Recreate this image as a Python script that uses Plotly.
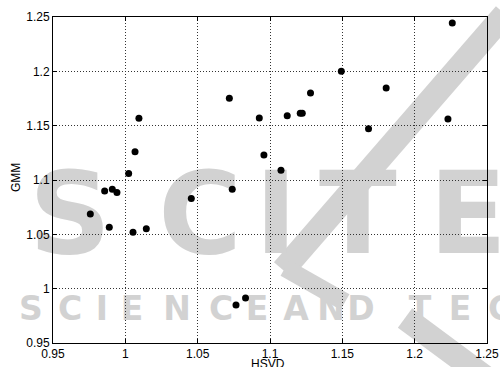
import plotly.graph_objects as go

# ---- data ----
hsvd = [1.0094, 1.0067, 1.0023, 1.0719, 1.2260, 1.1493, 1.1803, 1.1280, 1.1119,
        1.1209, 1.1223, 1.0926, 1.2230, 1.1681, 1.0958, 1.1076, 1.0739, 0.9857,
        0.9910, 0.9942, 1.0456, 0.9758, 0.9889, 1.0053, 1.0145, 1.0765, 1.0831]
gmm = [1.1568, 1.1260, 1.1060, 1.1752, 1.2445, 1.2000, 1.1847, 1.1800, 1.1592,
       1.1614, 1.1614, 1.1570, 1.1561, 1.1472, 1.1230, 1.1090, 1.0915, 1.0899,
       1.0915, 1.0884, 1.0829, 1.0687, 1.0565, 1.0519, 1.0552, 0.9850, 0.9915]

tick_vals = [0.95, 1.0, 1.05, 1.1, 1.15, 1.2, 1.25]
tick_text = ["0.95", "1", "1.05", "1.1", "1.15", "1.2", "1.25"]

# ---- layout geometry (page pixels in the 500x367 window) ----
W, H = 500, 367
L, R, T, B = 53, 487, 17, 343   # plot area in page pixels

def px(x):
    return (x - L) / (R - L)

def py(y):
    return (B - y) / (B - T)

WM = "#d2d2d2"
shapes = []

def letter(ch, cx, cy, size):
    shapes.append(dict(type="rect", xref="paper", yref="paper",
                       x0=px(cx - 30), x1=px(cx + 30), y0=py(cy + 30), y1=py(cy - 30),
                       line=dict(width=0), fillcolor="rgba(0,0,0,0)", layer="below",
                       label=dict(text=ch, textposition="middle center",
                                  font=dict(family="DejaVu Sans", size=size, color=WM,
                                            weight="bold"))))

def stroke(x0, y0, x1, y1, w):
    shapes.append(dict(type="line", xref="paper", yref="paper",
                       x0=px(x0), y0=py(y0), x1=px(x1), y1=py(y1),
                       line=dict(color=WM, width=w), layer="below"))

# watermark (SCITEPRESS logo)
stroke(505, 14, 283, 270, 24)
stroke(285, 268, 345, 302, 18)
stroke(405, 318, 505, 392, 24)
for ch, cx in [("S", 70), ("C", 200), ("I", 276), ("T", 358), ("E", 468)]:
    letter(ch, cx, 205, 114)
for ch, cx in [("S", 31), ("C", 70), ("I", 102), ("E", 132), ("N", 177),
               ("C", 221), ("E", 257), ("A", 296), ("N", 331), ("D", 361),
               ("T", 420), ("E", 460), ("C", 500)]:
    letter(ch, cx, 306, 33)

fig = go.Figure()
fig.add_trace(go.Scatter(x=hsvd, y=gmm, mode="markers",
                         marker=dict(color="black", size=7, line=dict(width=0)),
                         showlegend=False))

axis_common = dict(
    tickvals=tick_vals, ticktext=tick_text, automargin=False,
    ticklabeloverflow="allow",
    showgrid=True, gridcolor="#333333", gridwidth=1, griddash="1px,2px",
    zeroline=False, showline=True, linecolor="black", linewidth=1,
    mirror="ticks", ticks="inside", ticklen=4, tickcolor="black",
    tickfont=dict(family="Liberation Sans", size=12, color="black"),
)

fig.update_layout(
    width=W, height=H,
    margin=dict(l=L, r=W - R, t=T, b=H - B, pad=0),
    paper_bgcolor="white", plot_bgcolor="rgba(0,0,0,0)",
    xaxis=dict(range=[0.95, 1.25], **axis_common),
    yaxis=dict(range=[0.95, 1.25], **axis_common),
    shapes=shapes,
    annotations=[
        dict(text="GMM", xref="paper", yref="paper", x=px(16), y=py(178),
             textangle=-90, showarrow=False, xanchor="center", yanchor="middle",
             font=dict(family="Liberation Sans", size=12, color="black")),
        dict(text="HSVD", xref="paper", yref="paper", x=px(268), y=py(364),
             showarrow=False, xanchor="center", yanchor="middle",
             font=dict(family="Liberation Sans", size=12, color="black")),
    ],
)

fig.write_html("out.html",
               config={"displayModeBar": False},
               post_script="document.body.style.margin='0';"
                           "document.body.style.overflow='hidden';")
